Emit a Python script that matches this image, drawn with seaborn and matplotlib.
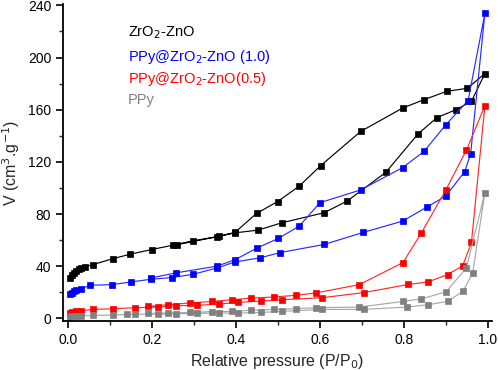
import matplotlib
matplotlib.use("Agg")
import matplotlib.pyplot as plt
from matplotlib.ticker import MultipleLocator
import seaborn as sns

# ── isotherm data (adsorption branch, then desorption branch) ───────────────
zro_ads_x = [0.005, 0.01, 0.015, 0.02, 0.025, 0.03, 0.04, 0.06, 0.108, 0.148, 0.199,
             0.251, 0.298, 0.354, 0.398, 0.453, 0.509, 0.610, 0.665, 0.757, 0.834,
             0.879, 0.924, 0.961, 0.993]
zro_ads_y = [31, 33, 35, 36.5, 37.5, 38.5, 39.5, 41.3, 45.9, 49.2, 52.8,
             56.2, 59.5, 62.6, 65.6, 67.7, 73.3, 81, 90, 112, 141.5,
             154, 160, 166.4, 187.7]
zro_des_x = [0.951, 0.902, 0.848, 0.797, 0.697, 0.602, 0.551, 0.499, 0.449, 0.398,
             0.36, 0.26]
zro_des_y = [176.4, 174.1, 167.7, 161.3, 143.3, 117.2, 101.5, 89.5, 80.5, 66,
             63, 56.5]

p10_ads_x = [0.005, 0.009, 0.015, 0.02, 0.03, 0.052, 0.105, 0.149, 0.197, 0.247,
             0.298, 0.355, 0.398, 0.457, 0.506, 0.61, 0.703, 0.797, 0.854, 0.9,
             0.945, 0.959, 0.993]
p10_ads_y = [19, 19.5, 21, 22, 22.5, 25.4, 25.9, 27.9, 30, 31.3,
             33.8, 38.7, 43.3, 46.4, 50.5, 56.7, 65.9, 74.6, 85.2, 93.8,
             112.6, 126.2, 233.8]
p10_des_x = [0.953, 0.9, 0.848, 0.797, 0.697, 0.6, 0.551, 0.501, 0.451, 0.398,
             0.354, 0.257, 0.197]
p10_des_y = [167, 148.5, 128, 115.6, 98.5, 88.7, 70.8, 61.3, 54.1, 45,
             40, 34.9, 31]

p05_ads_x = [0.005, 0.01, 0.02, 0.03, 0.06, 0.108, 0.16, 0.215, 0.256, 0.308,
             0.36, 0.406, 0.46, 0.51, 0.606, 0.705, 0.81, 0.858, 0.904, 0.94,
             0.961, 0.993]
p05_ads_y = [4, 4.8, 5.3, 5.8, 6.9, 7.4, 8.2, 8.7, 9.7, 10,
             11, 12.3, 13.3, 14.3, 15.9, 19.8, 26, 28, 33.6, 40.3,
             58.2, 163]
p05_des_x = [0.949, 0.9, 0.842, 0.798, 0.694, 0.59, 0.542, 0.491, 0.437, 0.391,
             0.342, 0.29, 0.239, 0.191]
p05_des_y = [129, 98.5, 65.7, 42.8, 25.9, 19.5, 17.7, 16.4, 15.6, 14.3,
             13, 11.8, 10.5, 9.2]

ppy_ads_x = [0.005, 0.01, 0.02, 0.03, 0.06, 0.108, 0.14, 0.16, 0.215, 0.256,
             0.308, 0.36, 0.406, 0.46, 0.51, 0.606, 0.705, 0.808, 0.858, 0.904,
             0.941, 0.964, 0.993]
ppy_ads_y = [1, 1.5, 1.8, 2, 2.3, 2.6, 3, 3.1, 3.3, 3.5,
             3.8, 4.1, 4.1, 4.6, 5.4, 6.9, 6.9, 8.7, 10.5, 13,
             20.8, 35, 96.4]
ppy_des_x = [0.949, 0.9, 0.842, 0.798, 0.694, 0.59, 0.542, 0.491, 0.437, 0.391,
             0.342, 0.29, 0.239, 0.191]
ppy_des_y = [38.7, 20.3, 15, 13, 8.7, 8.2, 7.4, 6.9, 6.2, 5.4,
             5.2, 4.6, 4.2, 3.8]

labels = ["ZrO$_2$-ZnO", "PPy@ZrO$_2$-ZnO (1.0)", "PPy@ZrO$_2$-ZnO(0.5)", "PPy"]

# ── style ───────────────────────────────────────────────────────────────────
sns.set_style("ticks")
plt.rcParams["font.family"] = ["Liberation Sans", "DejaVu Sans"]

series = [
    (zro_ads_x + zro_des_x, zro_ads_y + zro_des_y, "#000000", "#000000"),
    (p10_ads_x + p10_des_x, p10_ads_y + p10_des_y, "#2a2aff", "#0000ff"),
    (p05_ads_x + p05_des_x, p05_ads_y + p05_des_y, "#ff2a2a", "#ff0000"),
    (ppy_ads_x + ppy_des_x, ppy_ads_y + ppy_des_y, "#a8a8a8", "#808080"),
]

fig = plt.figure(figsize=(4.98, 3.70), dpi=100)
ax = fig.add_axes([0.1265, 0.1324, 0.8615, 0.8566])

for x, y, lc, mc in series:
    sns.lineplot(x=x, y=y, ax=ax, sort=False, estimator=None, color=lc,
                 linewidth=0.85, marker="s", markersize=5,
                 markerfacecolor=mc, markeredgecolor=mc, markeredgewidth=0.5)

ax.set_xlim(-0.012, 1.01)
ax.set_ylim(-2, 241)
ax.xaxis.set_major_locator(MultipleLocator(0.2))
ax.xaxis.set_minor_locator(MultipleLocator(0.1))
ax.yaxis.set_major_locator(MultipleLocator(40))
ax.yaxis.set_minor_locator(MultipleLocator(20))
ax.set_xticklabels([f"{v:.1f}" for v in ax.get_xticks()])
ax.tick_params(axis="both", which="major", length=5, width=1.2, labelsize=10,
               direction="out", color="black", labelcolor="black")
ax.tick_params(axis="both", which="minor", length=3, width=1.0, direction="out")
for side in ["left", "bottom"]:
    ax.spines[side].set_linewidth(1.3)
    ax.spines[side].set_color("black")
sns.despine(ax=ax)

ax.set_xlabel("Relative pressure (P/P$_0$)", fontsize=11.5, labelpad=4)
ax.set_ylabel("V (cm$^3$.g$^{-1}$)", fontsize=11.5, labelpad=4)

# coloured text-only legend
for lab, (_, _, _, mc), ypos in zip(labels, series, [0.909, 0.833, 0.763, 0.697]):
    ax.text(0.152, ypos, lab, color=mc, fontsize=10.5, transform=ax.transAxes,
            ha="left", va="center")

fig.savefig("out.png", dpi=100)
